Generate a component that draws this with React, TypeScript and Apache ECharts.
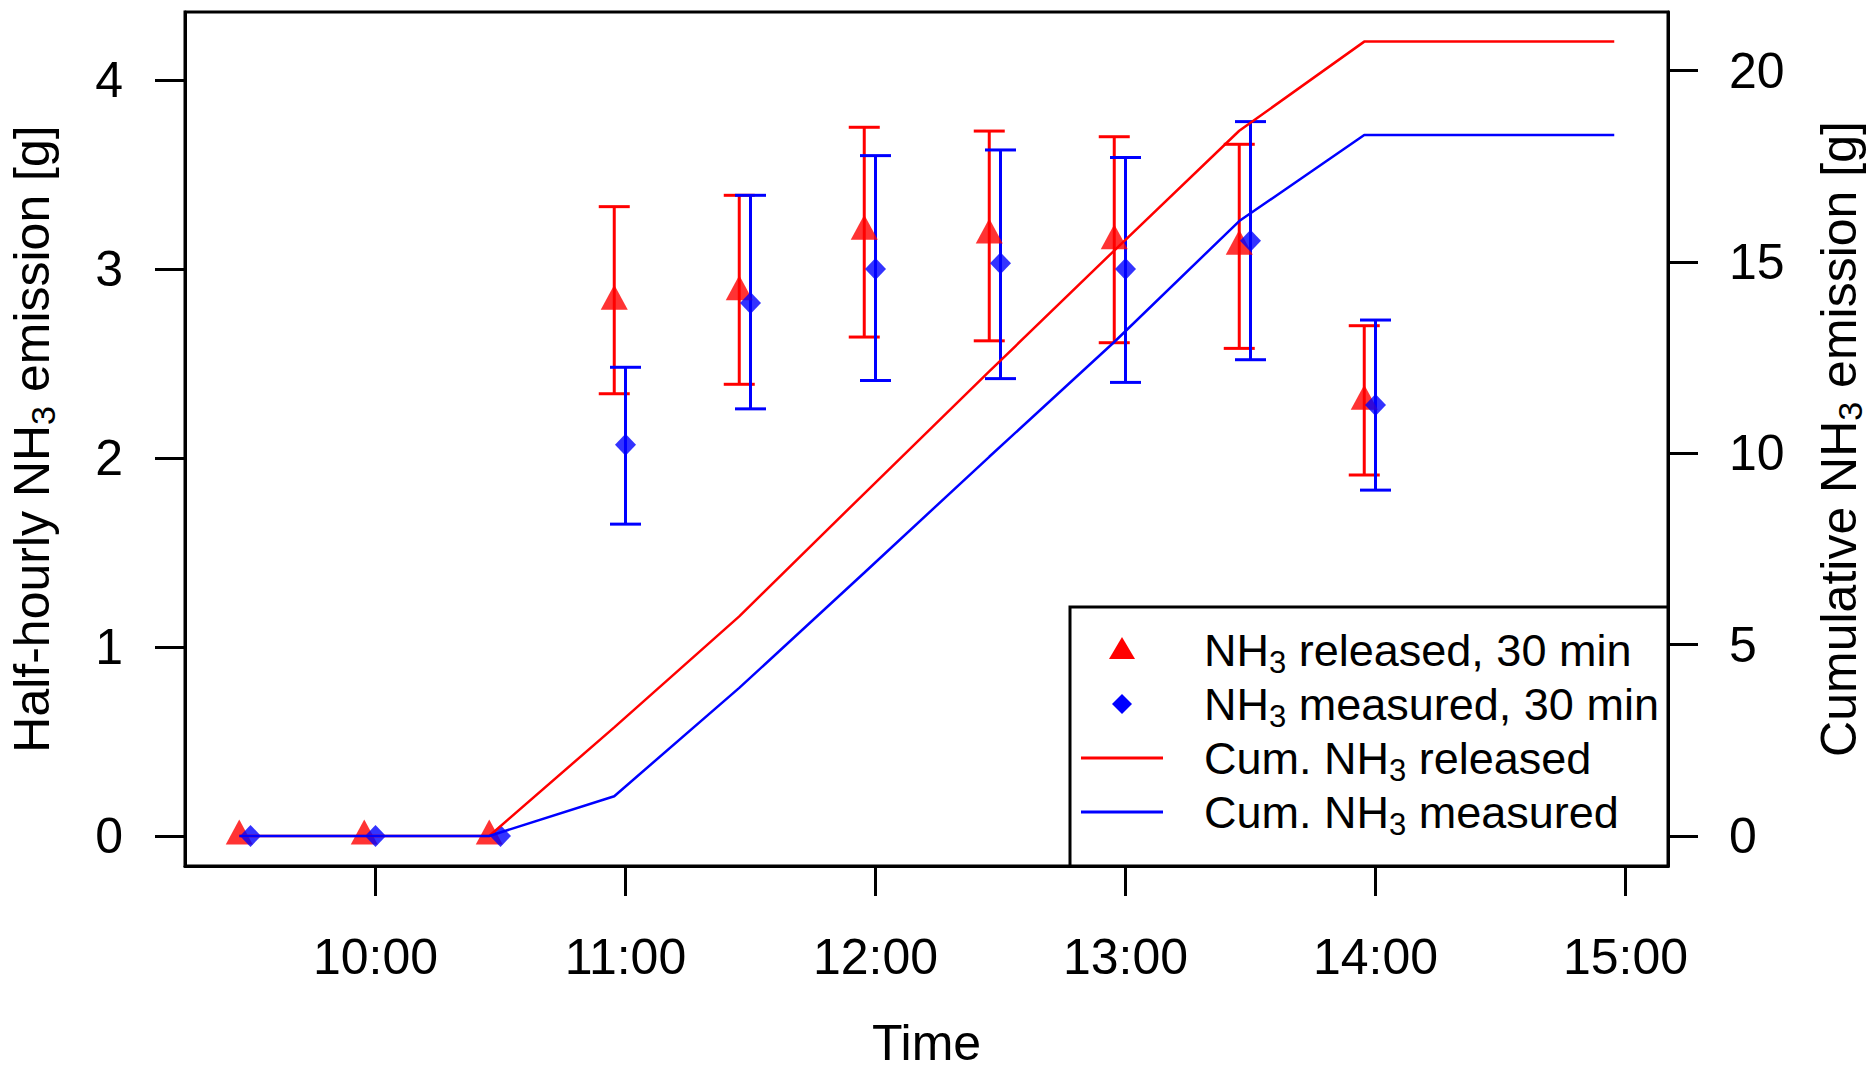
import React, { useEffect, useRef } from 'react';
import * as echarts from 'echarts';

// half-hourly values, released (red) and measured (blue)
const releasedTimes = [9.455, 9.955, 10.455, 10.955, 11.455, 11.955, 12.455, 12.955, 13.455, 13.955];
const releasedValues = [0, 0, 0, 2.83, 2.88, 3.2, 3.18, 3.15, 3.12, 2.3];
const releasedUpper = [null, null, null, 3.33, 3.39, 3.75, 3.73, 3.7, 3.66, 2.7];
const releasedLower = [null, null, null, 2.34, 2.39, 2.64, 2.62, 2.61, 2.58, 1.91];

const measuredTimes = [9.5, 10, 10.5, 11, 11.5, 12, 12.5, 13, 13.5, 14];
const measuredValues = [0, 0, 0, 2.07, 2.82, 3.0, 3.03, 3.0, 3.15, 2.28];
const measuredUpper = [null, null, null, 2.48, 3.39, 3.6, 3.63, 3.59, 3.78, 2.73];
const measuredLower = [null, null, null, 1.65, 2.26, 2.41, 2.42, 2.4, 2.52, 1.83];

// cumulative curves (right axis)
const cumTimes = [9.455, 9.955, 10.455, 10.955, 11.455, 11.955, 12.455, 12.955, 13.455, 13.955, 14.955];
const cumReleased = [0, 0, 0, 2.84, 5.74, 8.95, 12.14, 15.3, 18.43, 20.76, 20.76];
const cumMeasured = [0, 0, 0, 1.04, 3.87, 6.88, 9.91, 12.91, 16.07, 18.32, 18.32];

const xTicks = [10, 11, 12, 13, 14, 15];
const leftTicks = [0, 1, 2, 3, 4];
const rightTicks = [0, 5, 10, 15, 20];

const RED = '#ff0000';
const BLUE = '#0000ff';
const FONT = 'Liberation Sans, Arial, sans-serif';

const subRich = (size: number, lh: number) => ({
  n: { fontSize: size, lineHeight: lh, fontFamily: FONT, color: '#000' },
  s: { fontSize: Math.round(size * 0.68), lineHeight: Math.round(size * 0.68), verticalAlign: 'bottom', fontFamily: FONT, color: '#000' },
});

const errData = (times: number[], lo: (number | null)[], hi: (number | null)[]) =>
  times.map((t, i) => [t, lo[i], hi[i]]).filter((d) => d[1] != null);

const errSeries = (data: any[], color: string) => ({
  type: 'custom',
  yAxisIndex: 0,
  data,
  encode: { x: 0, y: [1, 2] },
  renderItem: (params: any, api: any) => {
    const x = api.value(0);
    const lo = api.coord([x, api.value(1)]);
    const hi = api.coord([x, api.value(2)]);
    const hw = 15.5;
    const style = { stroke: color, lineWidth: 3 };
    return {
      type: 'group',
      children: [
        { type: 'line', shape: { x1: lo[0], y1: lo[1], x2: hi[0], y2: hi[1] }, style },
        { type: 'line', shape: { x1: lo[0] - hw, y1: lo[1], x2: lo[0] + hw, y2: lo[1] }, style },
        { type: 'line', shape: { x1: hi[0] - hw, y1: hi[1], x2: hi[0] + hw, y2: hi[1] }, style },
      ],
    };
  },
  z: 2,
});

const legendRows = [
  { text: '{n|NH}{s|3}{n| released, 30 min}', kind: 'triangle', color: RED },
  { text: '{n|NH}{s|3}{n| measured, 30 min}', kind: 'diamond', color: BLUE },
  { text: '{n|Cum. NH}{s|3}{n| released}', kind: 'line', color: RED },
  { text: '{n|Cum. NH}{s|3}{n| measured}', kind: 'line', color: BLUE },
];

const App: React.FC = () => {
  const chartRef = useRef<HTMLDivElement>(null);

  useEffect(() => {
    if (!chartRef.current) return;
    const chart = echarts.init(chartRef.current, undefined, { renderer: 'svg' });

    const lx = 1070;
    const ly = 607;
    const rowY = [650, 704, 758, 812];
    const iconX = 1122;
    const legendChildren: any[] = [
      { type: 'rect', shape: { x: lx, y: ly, width: 598, height: 259 }, style: { fill: '#fff', stroke: '#000', lineWidth: 3 } },
    ];
    legendRows.forEach((r, i) => {
      const y = rowY[i];
      if (r.kind === 'triangle') {
        legendChildren.push({ type: 'polygon', shape: { points: [[iconX, y - 13], [iconX - 13, y + 9], [iconX + 13, y + 9]] }, style: { fill: r.color } });
      } else if (r.kind === 'diamond') {
        legendChildren.push({ type: 'polygon', shape: { points: [[iconX, y - 10], [iconX + 10, y], [iconX, y + 10], [iconX - 10, y]] }, style: { fill: r.color } });
      } else {
        legendChildren.push({ type: 'line', shape: { x1: 1081, y1: y, x2: 1163, y2: y }, style: { stroke: r.color, lineWidth: 3 } });
      }
      legendChildren.push({
        type: 'text',
        x: 1204,
        y: y - 28,
        style: { text: r.text, rich: subRich(45, 56), verticalAlign: 'top', align: 'left' },
      });
    });

    const axisLine = { show: true, onZero: false, lineStyle: { color: '#000', width: 3 } };
    const tickStyle = { color: '#000', width: 3 };

    const option: any = {
      animation: false,
      backgroundColor: '#fff',
      grid: {
        left: 185, right: 207, top: 12, bottom: 208,
        outerBoundsMode: 'none', containLabel: false,
        show: true, borderColor: '#000', borderWidth: 3, backgroundColor: 'transparent',
      },
      xAxis: {
        type: 'value',
        min: 9.238,
        max: 15.17,
        splitLine: { show: false },
        axisLine,
        axisTick: { show: true, inside: false, customValues: xTicks, length: 30, lineStyle: tickStyle },
        axisLabel: { customValues: xTicks, formatter: (v: number) => `${v}:00`, fontSize: 50, fontFamily: FONT, color: '#000', margin: 66 },
        name: 'Time',
        nameLocation: 'middle',
        nameGap: 155,
        nameTextStyle: { fontSize: 50, lineHeight: 44, fontFamily: FONT, color: '#000' },
      },
      yAxis: [
        {
          type: 'value',
          position: 'left',
          min: -0.159,
          max: 4.36,
          splitLine: { show: false },
          axisLine,
          axisTick: { show: true, inside: false, customValues: leftTicks, length: 30, lineStyle: tickStyle },
          axisLabel: { customValues: leftTicks, fontSize: 50, fontFamily: FONT, color: '#000', margin: 62 },
          name: '{n|Half-hourly NH}{s|3}{n| emission [g]}',
          nameLocation: 'middle',
          nameGap: 125,
          nameRotate: 90,
          nameTextStyle: { rich: subRich(50, 56) },
        },
        {
          type: 'value',
          position: 'right',
          min: -0.784,
          max: 21.534,
          splitLine: { show: false },
          axisLine,
          axisTick: { show: true, inside: false, customValues: rightTicks, length: 30, lineStyle: tickStyle },
          axisLabel: { customValues: rightTicks, fontSize: 50, fontFamily: FONT, color: '#000', margin: 61 },
          name: '{n|Cumulative NH}{s|3}{n| emission [g]}',
          nameLocation: 'middle',
          nameGap: 143,
          nameRotate: 90,
          nameTextStyle: { rich: subRich(50, 56) },
        },
      ],
      series: [
        errSeries(errData(releasedTimes, releasedLower, releasedUpper), RED),
        errSeries(errData(measuredTimes, measuredLower, measuredUpper), BLUE),
        {
          type: 'scatter',
          yAxisIndex: 0,
          data: releasedTimes.map((t, i) => [t, releasedValues[i]]),
          symbol: 'triangle',
          symbolSize: [27, 25],
          symbolOffset: [0, -4],
          itemStyle: { color: RED },
          z: 3,
        },
        {
          type: 'scatter',
          yAxisIndex: 0,
          data: measuredTimes.map((t, i) => [t, measuredValues[i]]),
          symbol: 'diamond',
          symbolSize: [21, 22],
          itemStyle: { color: BLUE },
          z: 4,
        },
        {
          type: 'line',
          yAxisIndex: 1,
          data: cumTimes.map((t, i) => [t, cumReleased[i]]),
          symbol: 'none',
          lineStyle: { color: RED, width: 2.5 },
          z: 5,
        },
        {
          type: 'line',
          yAxisIndex: 1,
          data: cumTimes.map((t, i) => [t, cumMeasured[i]]),
          symbol: 'none',
          lineStyle: { color: BLUE, width: 2.5 },
          z: 5,
        },
      ],
      graphic: [{ type: 'group', z: 100, children: legendChildren }],
    };

    chart.setOption(option);
    return () => {
      chart.dispose();
    };
  }, []);

  return <div ref={chartRef} style={{ position: 'fixed', left: 0, top: 0, width: 1875, height: 1074 }} />;
};

export default App;
